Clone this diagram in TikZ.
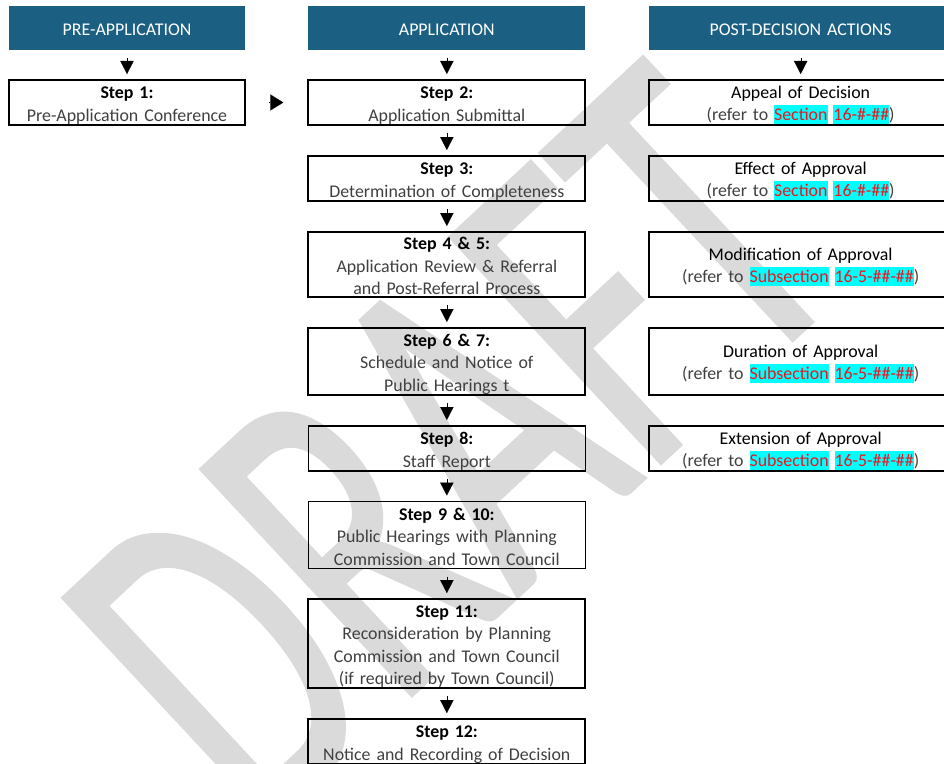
\documentclass[tikz,border=0pt]{standalone}
\usepackage{fontspec}
\setmainfont{Carlito}
\newfontfamily\wmfont[FakeBold=1]{Carlito}
\usepackage{xcolor}
\usepackage{graphicx}
\usepackage{tikz}
\usetikzlibrary{matrix,arrows.meta}
\definecolor{hdblue}{HTML}{1B6083}
\definecolor{bodygray}{HTML}{404040}
\definecolor{hlcyan}{HTML}{00FFFF}
\definecolor{refred}{HTML}{F0141E}
\definecolor{wmgray}{HTML}{DADADA}
\newcommand{\stephd}[1]{{\color{black}\bfseries #1}}
\newcommand{\acthd}[1]{{\color{black}#1}}
\newcommand{\hlref}[1]{{\setlength{\fboxsep}{0pt}\colorbox{hlcyan}{\rule[-2.4pt]{0pt}{14.2pt}\textcolor{refred}{#1}}}}
\newcommand{\topstrut}{\rule{0pt}{13.2pt}}
\newcommand{\botstrut}{\rule[-1.7pt]{0pt}{1.7pt}}

\begin{document}
\begin{tikzpicture}[x=0.75pt,y=-0.75pt,
  stepbox/.style={draw=black,line width=1.5pt,text=bodygray,align=center,
    inner xsep=0pt,inner ysep=0pt,outer sep=0pt,anchor=center,
    font=\fontsize{13.4}{16.9}\selectfont,
    execute at begin node=\topstrut,execute at end node=\botstrut},
  thinbox/.style={line width=0.8pt},
  headbox/.style={draw=none,fill=hdblue,text=white},
  tri/.style={-{Triangle[width=10pt,length=9.75pt]},line width=0.1pt,
    shorten <=6pt,shorten >=4.5pt},
  watermark/.style={text=wmgray,inner sep=0pt,font=\wmfont\fontsize{360}{360}\selectfont}]
\useasboundingbox (0,0) rectangle (944,763);
\clip (0,0) rectangle (944,763);
% watermark behind the chart
\node[watermark,rotate=43,anchor=base west] (wm) at (258,838) {\scalebox{0.635}[1]{DRAFT}};
\matrix (tree) [%
    matrix of nodes,anchor=north west,inner sep=0pt,outer sep=0pt,
    column sep=46pt,
    row sep=21.75pt,
    nodes={stepbox},
    column 1/.style={nodes={text width=177pt}},
    column 2/.style={nodes={text width=207.75pt}},
    column 3/.style={nodes={text width=228pt}},
    row 1/.style={nodes={headbox,minimum height=33pt}},
    row 2/.style={nodes={minimum height=33.75pt}},
    row 3/.style={nodes={minimum height=33.75pt}},
    row 4/.style={nodes={minimum height=48.75pt}},
    row 5/.style={nodes={minimum height=50.25pt}},
    row 6/.style={nodes={minimum height=33.75pt}},
    row 7/.style={nodes={minimum height=50.25pt}},
    row 8/.style={nodes={minimum height=66.75pt}},
    row 9/.style={nodes={minimum height=33.75pt}}] at (8,6) {
PRE-APPLICATION & APPLICATION & POST-DECISION ACTIONS \\
\stephd{Step 1:}\par Pre-Application Conference & \stephd{Step 2:}\par Application Submittal & \acthd{Appeal of Decision}\par (refer to \hlref{Section} \hlref{16-\#-\#\#}) \\
 & \stephd{Step 3:}\par Determination of Completeness & \acthd{Effect of Approval}\par (refer to \hlref{Section} \hlref{16-\#-\#\#}) \\
 & \stephd{Step 4 \& 5:}\par Application Review \& Referral\par and Post-Referral Process & \acthd{Modification of Approval}\par (refer to \hlref{Subsection} \hlref{16-5-\#\#-\#\#}) \\
 & \stephd{Step 6 \& 7:}\par Schedule and Notice of\par Public Hearings t & \acthd{Duration of Approval}\par (refer to \hlref{Subsection} \hlref{16-5-\#\#-\#\#}) \\
 & |[thinbox]| \stephd{Step 8:}\par Staff Report & \acthd{Extension of Approval}\par (refer to \hlref{Subsection} \hlref{16-5-\#\#-\#\#}) \\
 & |[thinbox]| \stephd{Step 9 \& 10:}\par Public Hearings with Planning\par Commission and Town Council & \\
 & \stephd{Step 11:}\par Reconsideration by Planning\par Commission and Town Council\par (if required by Town Council) & \\
 & \stephd{Step 12:}\par Notice and Recording of Decision & \\
};
\draw[tri] (tree-1-1) -- (tree-2-1);
\draw[tri] (tree-1-2) -- (tree-2-2);
\draw[tri] (tree-1-3) -- (tree-2-3);
\draw[tri,shorten <=18pt,shorten >=18.75pt,-{Triangle[width=12pt,length=9.75pt]}] (tree-2-1) -- (tree-2-2);
\draw[tri] (tree-2-2) -- (tree-3-2);
\draw[tri] (tree-3-2) -- (tree-4-2);
\draw[tri] (tree-4-2) -- (tree-5-2);
\draw[tri] (tree-5-2) -- (tree-6-2);
\draw[tri] (tree-6-2) -- (tree-7-2);
\draw[tri] (tree-7-2) -- (tree-8-2);
\draw[tri] (tree-8-2) -- (tree-9-2);
\end{tikzpicture}
\end{document}
